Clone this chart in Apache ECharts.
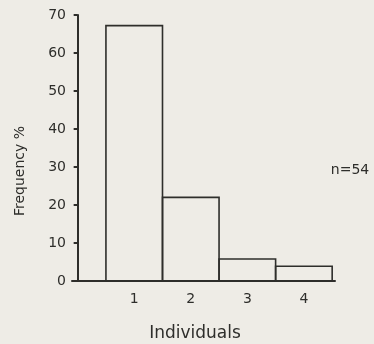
<!DOCTYPE html>
<html>
<head>
<meta charset="utf-8">
<script src="https://cdn.jsdelivr.net/npm/echarts@6/dist/echarts.min.js"></script>
<style>
html,body{margin:0;padding:0;background:#eeece6;}
#chart{width:374px;height:344px;}
</style>
</head>
<body>
<div id="chart"></div>
<script>
const categories = [1, 2, 3, 4];
const frequency = [67.2, 22.0, 5.8, 3.9];
const yTicks = [0, 10, 20, 30, 40, 50, 60, 70];
const xLabel = 'Individuals';
const yLabel = 'Frequency %';
const note = 'n=54';

const ink = '#2e2e2b';
const font = 'DejaVu Sans';

const chart = echarts.init(document.getElementById('chart'), null, {renderer: 'canvas'});
chart.setOption({
  backgroundColor: '#eeece6',
  animation: false,
  grid: {left: 72, right: 39, top: 15, bottom: 63},
  xAxis: {
    type: 'value',
    min: -0.1,
    max: 4.55,
    splitLine: {show: false},
    axisLine: {show: true, lineStyle: {color: ink, width: 2}},
    axisTick: {show: false},
    axisLabel: {
      customValues: categories,
      color: ink, fontFamily: font, fontSize: 14, margin: 11,
      formatter: v => String(v)
    }
  },
  yAxis: {
    type: 'value',
    min: yTicks[0],
    max: yTicks[yTicks.length - 1],
    interval: 10,
    splitLine: {show: false},
    axisLine: {show: true, lineStyle: {color: ink, width: 2}},
    axisTick: {show: true, length: 4, lineStyle: {color: ink, width: 2}},
    axisLabel: {color: ink, fontFamily: font, fontSize: 14, margin: 6}
  },
  graphic: [
    {type: 'text', position: [20, 171], rotation: Math.PI / 2,
      style: {text: yLabel, fill: ink, font: '14px "DejaVu Sans"', textAlign: 'center', textVerticalAlign: 'middle'}},
    {type: 'text', position: [195, 334],
      style: {text: xLabel, fill: ink, font: '17px "DejaVu Sans"', textAlign: 'center', textVerticalAlign: 'middle'}},
    {type: 'text', position: [350, 170],
      style: {text: note, fill: ink, font: '14px "DejaVu Sans"', textAlign: 'center', textVerticalAlign: 'middle'}}
  ],
  series: [{
    type: 'custom',
    data: categories.map((c, i) => [c, frequency[i]]),
    renderItem: function (params, api) {
      const x = api.value(0), v = api.value(1);
      const p0 = api.coord([x - 0.5, v]);
      const p1 = api.coord([x + 0.5, 0]);
      return {
        type: 'rect',
        shape: {x: p0[0], y: p0[1], width: p1[0] - p0[0], height: p1[1] - p0[1]},
        style: {fill: 'rgba(0,0,0,0)', stroke: ink, lineWidth: 1.6}
      };
    }
  }]
});
</script>
</body>
</html>
